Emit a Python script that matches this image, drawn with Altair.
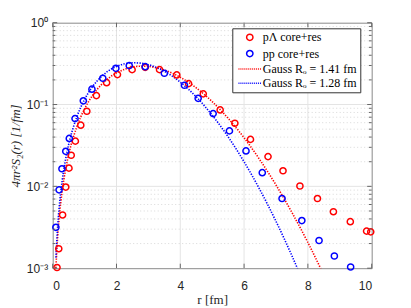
import altair as alt
import pandas as pd

# ---------------- data ----------------
names = ["pΛ core+res", "pp core+res", "Gauss Rₒ = 1.41 fm", "Gauss Rₒ = 1.28 fm"]
colors = ["#ff0000", "#0000ff", "#ff0000", "#0000ff"]

pL_r = [0.135, 0.19, 0.31, 0.41, 0.51, 0.58, 0.71, 0.88, 1.07, 1.37, 1.69, 2.03, 2.49, 2.90, 3.35,
        3.89, 4.26, 4.72, 5.25, 5.71, 6.20, 6.75, 7.22, 7.75, 8.30, 8.80, 9.33, 9.84, 9.97]
pL_v = [1.02e-3, 1.73e-3, 4.47e-3, 9.8e-3, 0.0167, 0.024, 0.0357, 0.0559, 0.0828, 0.1285, 0.185,
        0.232, 0.267, 0.285, 0.267, 0.230, 0.180, 0.135, 0.0859, 0.0591, 0.0375, 0.0231, 0.0155,
        0.0101, 7.1e-3, 4.9e-3, 3.7e-3, 2.84e-3, 2.78e-3]

pp_r = [0.10, 0.20, 0.29, 0.41, 0.52, 0.70, 0.96, 1.23, 1.57, 1.98, 2.40, 2.90, 3.50, 4.13, 4.56,
        5.03, 5.54, 6.06, 6.57, 7.19, 7.81, 8.35, 8.83, 9.34]
pp_v = [3.16e-3, 9.06e-3, 0.0164, 0.0268, 0.0385, 0.0673, 0.111, 0.154, 0.2095, 0.277, 0.2985,
        0.290, 0.241, 0.172, 0.119, 0.0775, 0.0476, 0.0271, 0.0147, 7.1e-3, 3.82e-3, 2.18e-3,
        1.41e-3, 1.035e-3]

g141_r = [0.1, 0.15, 0.2, 0.3, 0.4, 0.5, 0.75, 1.0, 1.25, 1.5, 1.75, 2.0, 2.25, 2.5, 2.75, 3.0,
          3.25, 3.5, 3.75, 4.0, 4.5, 5.0, 5.5, 6.0, 6.5, 7.0, 7.5, 8.0, 8.5]
g141_v = [1.006e-3, 2.257e-3, 4.0e-3, 8.95e-3, 0.01578, 0.02437, 0.05272, 0.0887, 0.1292, 0.1706,
          0.2097, 0.2434, 0.2693, 0.2865, 0.2941, 0.2921, 0.2817, 0.2637, 0.2413, 0.2152, 0.1597,
          0.1085, 0.0678, 0.0392, 0.02095, 0.0104, 4.79e-3, 2.06e-3, 8.23e-4]

g128_r = [0.1, 0.15, 0.2, 0.3, 0.4, 0.5, 0.75, 1.0, 1.25, 1.5, 1.75, 2.0, 2.25, 2.5, 2.75, 3.0,
          3.25, 3.5, 3.75, 4.0, 4.5, 5.0, 5.5, 6.0, 6.5, 7.0, 7.5, 8.0]
g128_v = [1.345e-3, 3.016e-3, 5.347e-3, 0.01194, 0.0210, 0.03237, 0.06944, 0.1155, 0.1656, 0.2147,
          0.2582, 0.2922, 0.3145, 0.3239, 0.3209, 0.3070, 0.2843, 0.2551, 0.2221, 0.1875, 0.1240,
          0.0741, 0.04027, 0.01995, 9.02e-3, 3.74e-3, 1.416e-3, 4.94e-4]

x_ticks = [0, 2, 4, 6, 8, 10]
x_grid = [2, 4, 6, 8]
y_major = [0.001, 0.01, 0.1, 1]
y_labels = ["10⁻³", "10⁻²", "10⁻¹", "10⁰"]
y_grid = [0.01, 0.1]
y_minor = [0.002, 0.003, 0.004, 0.005, 0.006, 0.007, 0.008, 0.009,
           0.02, 0.03, 0.04, 0.05, 0.06, 0.07, 0.08, 0.09,
           0.2, 0.3, 0.4, 0.5, 0.6, 0.7, 0.8, 0.9]

# ---------------- tables ----------------
pts = pd.concat([
    pd.DataFrame({"r": pL_r, "v": pL_v, "series": names[0]}),
    pd.DataFrame({"r": pp_r, "v": pp_v, "series": names[1]}),
])
line_red = pd.DataFrame({"r": g141_r, "v": g141_v})
line_blue = pd.DataFrame({"r": g128_r, "v": g128_v})
xg = pd.DataFrame({"r": x_grid})
xt = pd.DataFrame({"r": x_ticks})
yg = pd.DataFrame({"v": y_grid})
ym = pd.DataFrame({"v": y_major})
yn = pd.DataFrame({"v": y_minor})

W, H = 319, 245.5
xs = alt.Scale(domain=[0, 10], nice=False, zero=False)
ys = alt.Scale(type="log", domain=[0.001, 1], nice=False)

dots = "".join(f"M{-3.57 + i * 0.62:.2f},0h0.3" for i in range(12))
shapes = ["circle", "circle", dots, dots]

label_expr = " : ".join(
    f"datum.value < {v * 1.5} ? '{lab}'" for v, lab in zip(y_major[:-1], y_labels[:-1])
) + f" : '{y_labels[-1]}'"

leg = alt.Legend(
    orient="none", legendX=179.6, legendY=5.6, title=None, direction="vertical",
    fillColor="white", strokeColor="#333333", padding=3, cornerRadius=0,
    symbolSize=40, symbolStrokeWidth=1.5, symbolOffset=8.5, labelOffset=7,
    labelFont="Liberation Serif", labelFontSize=12, labelColor="black",
    rowPadding=2.3, labelLimit=200,
)

grid_color = "#e4e4e4"
tick_color = "#666666"

X = alt.X("r:Q", scale=xs, axis=alt.Axis(
    values=x_ticks, ticks=False, domain=False, grid=False,
    labelFont="Liberation Sans", labelFontSize=12, labelColor="#262626", labelPadding=12,
    title="r [fm]", titleFont="Liberation Serif", titleFontSize=13, titleFontWeight="normal",
    titleColor="#262626", titlePadding=2))
Y = alt.Y("v:Q", scale=ys, axis=alt.Axis(
    values=y_major, labelExpr=label_expr, ticks=False, domain=False, grid=False,
    labelFont="Liberation Sans", labelFontSize=12, labelColor="#262626", labelPadding=5,
    title="4πr²S₂(r)  [1/fm]", titleFont="Liberation Serif", titleFontStyle="italic",
    titleFontSize=13, titleFontWeight="normal", titleColor="#262626", titlePadding=4))

xgrid = alt.Chart(xg).mark_rule(color=grid_color, strokeWidth=1).encode(
    x=X, y=alt.value(0), y2=alt.value(H))
ygrid = alt.Chart(yg).mark_rule(color=grid_color, strokeWidth=1).encode(
    y=Y, x=alt.value(0), x2=alt.value(W))
yminor = alt.Chart(yn).mark_rule(color="#cfcfcf", strokeWidth=0.8, strokeDash=[1, 2.5]).encode(
    y=Y, x=alt.value(0), x2=alt.value(W))

curve_red = alt.Chart(line_red).mark_line(
    strokeWidth=1.6, strokeDash=[1.3, 1.4], clip=True, interpolate="monotone", color=colors[2]
).encode(x=X, y=Y)
curve_blue = alt.Chart(line_blue).mark_line(
    strokeWidth=1.6, strokeDash=[1.3, 1.4], clip=True, interpolate="monotone", color=colors[3]
).encode(x=X, y=Y)

points = alt.Chart(pts).mark_point(filled=False, strokeWidth=1.5, size=38, opacity=1).encode(
    x=X, y=Y,
    color=alt.Color("series:N", scale=alt.Scale(domain=names, range=colors), legend=leg),
    shape=alt.Shape("series:N", scale=alt.Scale(domain=names, range=shapes), legend=leg),
)

tb = alt.Chart(xt).mark_rule(color=tick_color, strokeWidth=1).encode(
    x=X, y=alt.value(H), y2=alt.value(H - 4.5))
tt = alt.Chart(xt).mark_rule(color=tick_color, strokeWidth=1).encode(
    x=X, y=alt.value(0), y2=alt.value(4.5))
tl = alt.Chart(ym).mark_rule(color=tick_color, strokeWidth=1).encode(
    y=Y, x=alt.value(0), x2=alt.value(4.5))
tr = alt.Chart(ym).mark_rule(color=tick_color, strokeWidth=1).encode(
    y=Y, x=alt.value(W), x2=alt.value(W - 4.5))
tln = alt.Chart(yn).mark_rule(color=tick_color, strokeWidth=1).encode(
    y=Y, x=alt.value(0), x2=alt.value(2.7))
trn = alt.Chart(yn).mark_rule(color=tick_color, strokeWidth=1).encode(
    y=Y, x=alt.value(W), x2=alt.value(W - 2.7))

chart = alt.layer(
    xgrid, ygrid, yminor, curve_red, curve_blue, points, tb, tt, tl, tr, tln, trn
).properties(
    width=W, height=H,
    autosize=alt.AutoSizeParams(type="none"),
    padding={"left": 44.7, "top": 14.7, "right": 31, "bottom": 40},
    background="white",
).configure_view(stroke="#8a8a8a", strokeWidth=1)

chart.save("out.html", embed_options={"renderer": "svg", "actions": False})
